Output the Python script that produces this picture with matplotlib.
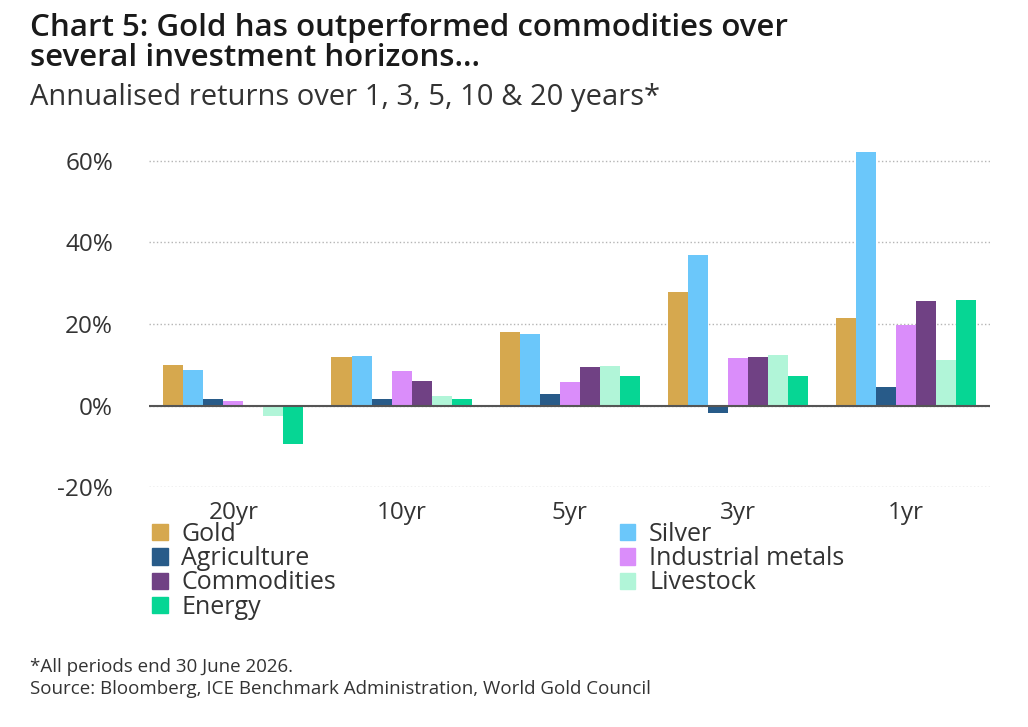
import numpy as np
import matplotlib
matplotlib.use('Agg')
import matplotlib.pyplot as plt
from matplotlib.patches import Patch

# Data: annualised returns (%)
periods = ["20yr", "10yr", "5yr", "3yr", "1yr"]
series = ["Gold", "Silver", "Agriculture", "Industrial metals",
          "Commodities", "Livestock", "Energy"]
gold = [9.9, 11.8, 18.0, 27.9, 21.4]
silver = [8.8, 12.1, 17.6, 37.0, 62.3]
agriculture = [1.5, 1.7, 2.8, -1.8, 4.6]
industrial_metals = [1.1, 8.4, 5.7, 11.7, 19.8]
commodities = [0.2, 6.0, 9.4, 11.8, 25.6]
livestock = [-2.5, 2.3, 9.7, 12.5, 11.1]
energy = [-9.4, 1.7, 7.3, 7.3, 25.8]
values = [gold, silver, agriculture, industrial_metals, commodities, livestock, energy]
colors = ["#D6A84E", "#6BC7FA", "#285B89", "#DA8DFA", "#704184", "#B1F5D8", "#06D694"]
yticks = [-20, 0, 20, 40, 60]

plt.rcParams['font.family'] = ['Open Sans', 'DejaVu Sans']

fig = plt.figure(figsize=(10.28, 7.27), dpi=100)
ax = fig.add_axes([0.1452, 0.3301, 0.818, 0.4765])

x = np.arange(len(periods))
w = 0.119
for i, (name, vals, c) in enumerate(zip(series, values, colors)):
    ax.bar(x + (i - 3) * w, vals, width=w, color=c, label=name, zorder=3)

ax.set_xlim(-0.5, 4.5)
ax.set_ylim(-20, 65)
ax.set_yticks(yticks)
ax.set_yticklabels([f"{v}%" for v in yticks])
ax.set_xticks(x)
ax.set_xticklabels(periods)
ax.tick_params(axis='both', length=0, labelsize=17.5, colors='#333333')
ax.tick_params(axis='y', pad=26)
ax.tick_params(axis='x', pad=10)
for s in ax.spines.values():
    s.set_visible(False)
ax.grid(axis='y', linestyle=':', color='#b5b5b5', lw=1, zorder=0)
ax.axhline(0, color='#555555', lw=1.5, zorder=4)

# legend: two columns, filled row-wise in the reference
handles = [Patch(color=c, label=n) for n, c in zip(series, colors)]
left = [handles[0], handles[2], handles[4], handles[6]]
right = [handles[1], handles[3], handles[5]]
kw = dict(frameon=False, fontsize=18, handlelength=0.62, handleheight=0.62,
          handletextpad=0.55, labelspacing=-0.03, borderaxespad=0, borderpad=0,
          labelcolor='#333333', loc='upper left')
fig.legend(handles=left, bbox_to_anchor=(0.148, 0.282), **kw)
fig.legend(handles=right, bbox_to_anchor=(0.603, 0.282), **kw)

fig.text(0.029, 1 - 28 / 727, "Chart 5: Gold has outperformed commodities over",
         fontsize=22.5, fontweight='semibold', color='#1a1a1a', va='center')
fig.text(0.029, 1 - 58 / 727, "several investment horizons...",
         fontsize=22.5, fontweight='semibold', color='#1a1a1a', va='center')
fig.text(0.029, 1 - 97 / 727, "Annualised returns over 1, 3, 5, 10 & 20 years*",
         fontsize=21, color='#333333', va='center')
fig.text(0.029, 1 - 667 / 727, "*All periods end 30 June 2026.",
         fontsize=13.5, color='#333333', va='center')
fig.text(0.029, 1 - 689 / 727, "Source: Bloomberg, ICE Benchmark Administration, World Gold Council",
         fontsize=13.5, color='#333333', va='center')

fig.savefig("out.png", dpi=100, facecolor='white')
